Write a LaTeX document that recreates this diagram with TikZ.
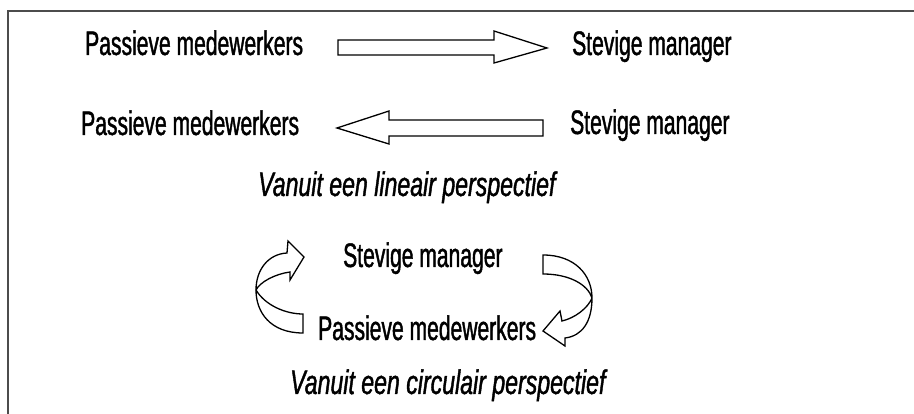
\documentclass[tikz,border=0pt]{standalone}
\usepackage{fontspec}
\setmainfont{Liberation Sans}[FakeStretch=0.62,FakeBold=1.2]
\newfontfamily\captionfont{Liberation Sans}[FakeStretch=0.68,FakeBold=1.2]
\begin{document}
\begin{tikzpicture}[x=1pt,y=-1pt,
  label/.style={inner sep=0pt,anchor=base west,font=\fontsize{34}{36}\selectfont},
  caption/.style={inner sep=0pt,anchor=base west,font=\fontsize{34}{36}\captionfont\itshape},
  blockarrow/.style={draw=black,line width=1.3pt,fill=white,line join=miter},
  frame/.style={draw=black!70,line width=1.5pt}]
\useasboundingbox (0,0) rectangle (914,414);
% open frame: top and left edges
\draw[frame] (914,11) -- (8,11) -- (8,414);

% linear view, first line
\node[label] (p1) at (85,55) {Passieve medewerkers};
\node[label] (s1) at (572,55) {Stevige manager};
\draw[blockarrow] (338,40) -- (494,40) -- (494,31) -- (547,48) -- (494,63) -- (494,55) -- (338,55) -- cycle;

% linear view, second line
\node[label] (p2) at (81,135) {Passieve medewerkers};
\node[label] (s2) at (570,134) {Stevige manager};
\draw[blockarrow] (543,120) -- (389,120) -- (389,111) -- (337,128) -- (389,144) -- (389,136) -- (543,136) -- cycle;

\node[caption] (c1) at (258,196) {Vanuit een lineair perspectief};

% circular view
\node[label] (s3) at (343,267) {Stevige manager};
\node[label] (p3) at (318,340) {Passieve medewerkers};

% left curved ribbon arrow (upwards)
\draw[blockarrow]
  (303,333) .. controls (270,333) and (256,312) .. (256,290)
  .. controls (256,270) and (268,254) .. (287,253)
  -- (288,241) -- (304,257) -- (290,280) -- (290,272)
  .. controls (275,274) and (260,282) .. (256,290)
  .. controls (265,305) and (285,314) .. (303,314) -- cycle;

% right curved ribbon arrow (downwards)
\draw[blockarrow]
  (543,255) .. controls (575,255) and (592,275) .. (592,298)
  .. controls (592,322) and (582,336) .. (565,338)
  -- (565,346) -- (543,331) -- (560,311) -- (562,321)
  .. controls (575,318) and (588,308) .. (592,298)
  .. controls (588,285) and (570,274) .. (543,274) -- cycle;

\node[caption] (c2) at (290,394) {Vanuit een circulair perspectief};
\end{tikzpicture}
\end{document}
